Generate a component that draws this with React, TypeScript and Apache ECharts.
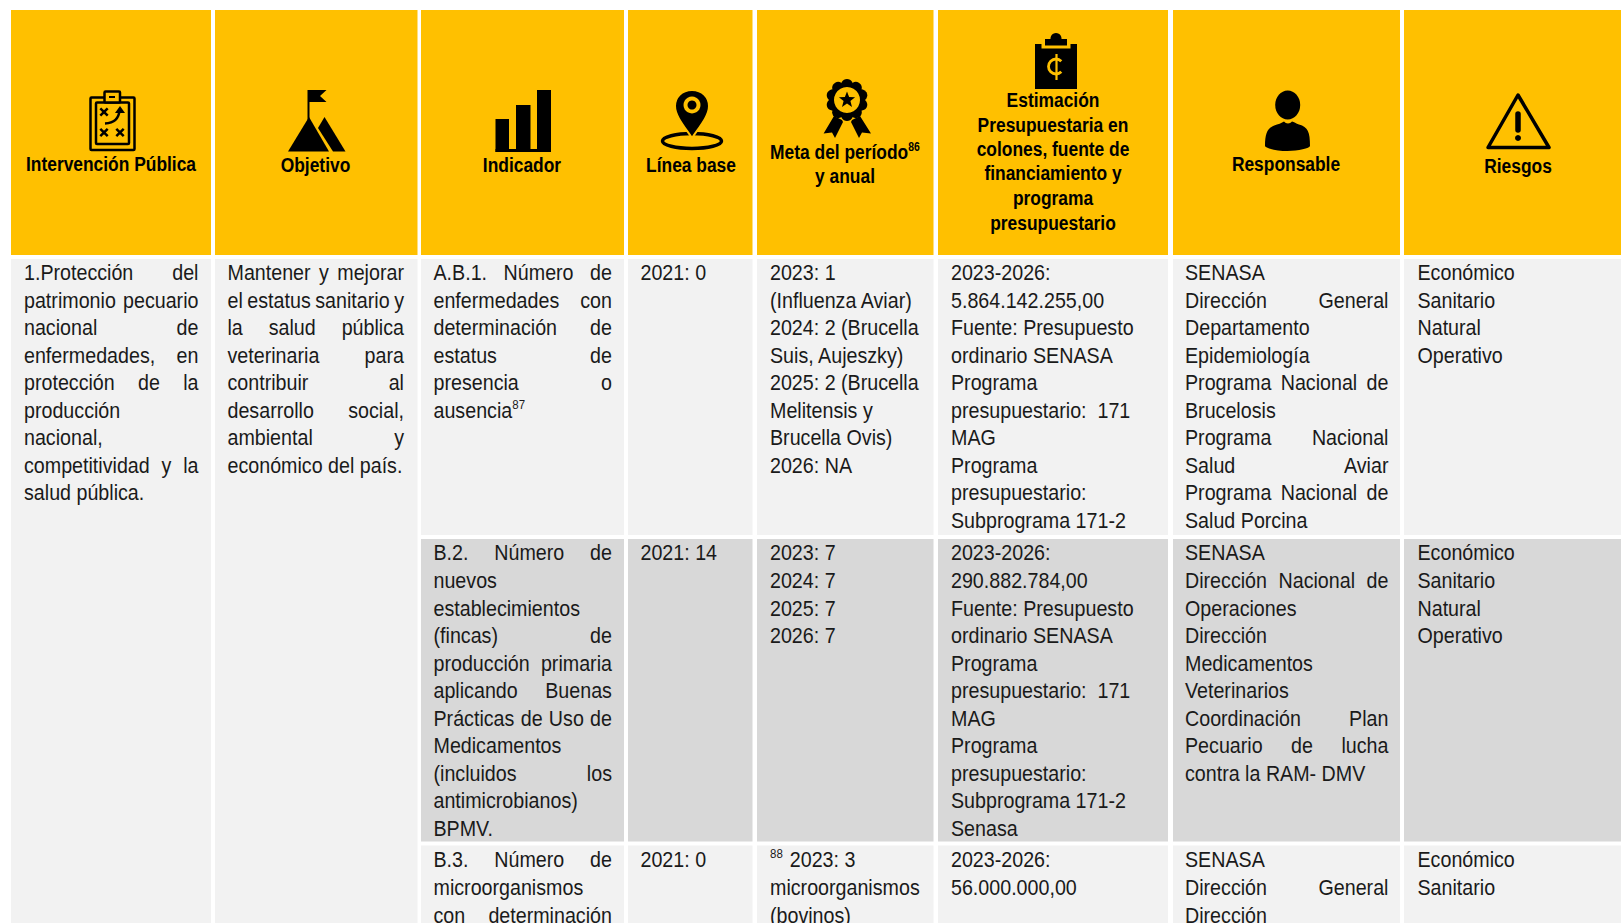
import React, { useEffect, useRef } from "react";
import * as echarts from "echarts";

const FONT_FAMILY = '"Liberation Sans", sans-serif';
const BODY_SIZE = 24;
const HEAD_SIZE = 20;
const BODY_SX = 0.82;
const BODY_SY = 0.95;
const HEAD_SX = 0.87;
const HEAD_SY = 1.0;

const columnEdges = [[11, 211], [215, 417.5], [421, 624], [628, 752.5], [757, 933.5], [938, 1168], [1173, 1400], [1404, 1621]];
const textEdges = [[24, 198.5], [227.5, 404], [433.5, 612], [640.5, 745], [770, 925], [951, 1160], [1185, 1388.5], [1417.5, 1610]];

const headerLines = [
  { x: 111, y: 164, text: "Intervención Pública" },
  { x: 315.5, y: 165, text: "Objetivo" },
  { x: 522, y: 165, text: "Indicador" },
  { x: 691, y: 165, text: "Línea base" },
  { x: 845, y: 152, text: "Meta del período^86" },
  { x: 845, y: 176, text: "y anual" },
  { x: 1053, y: 100, text: "Estimación" },
  { x: 1053, y: 125, text: "Presupuestaria en" },
  { x: 1053, y: 149, text: "colones, fuente de" },
  { x: 1053, y: 173.5, text: "financiamiento y" },
  { x: 1053, y: 198.5, text: "programa" },
  { x: 1053, y: 223, text: "presupuestario" },
  { x: 1286, y: 164, text: "Responsable" },
  { x: 1518, y: 166, text: "Riesgos" },
];

// "~" marks a justified line, "^" a superscript
const col1 = ["~1.Protección del", "~patrimonio pecuario", "~nacional de", "~enfermedades, en", "~protección de la", "producción", "nacional,", "~competitividad y la", "salud pública."];
const col2 = ["~Mantener y mejorar", "~el estatus sanitario y", "~la salud pública", "~veterinaria para", "~contribuir al", "~desarrollo social,", "~ambiental y", "económico del país."];
const indicadorA = ["~A.B.1. Número de", "~enfermedades con", "~determinación de", "~estatus de", "~presencia o", "ausencia^87"];
const indicadorB = ["~B.2. Número de", "nuevos", "establecimientos", "~(fincas) de", "~producción primaria", "~aplicando Buenas", "~Prácticas de Uso de", "Medicamentos", "~(incluidos los", "antimicrobianos)", "BPMV."];
const indicadorC = ["~B.3. Número de", "microorganismos", "~con determinación"];
const baseA = ["2021: 0"];
const baseB = ["2021: 14"];
const baseC = ["2021: 0"];
const metaA = ["2023: 1", "(Influenza Aviar)", "2024: 2 (Brucella", "Suis, Aujeszky)", "2025: 2 (Brucella", "Melitensis y", "Brucella Ovis)", "2026: NA"];
const metaB = ["2023: 7", "2024: 7", "2025: 7", "2026: 7"];
const metaC = ["^88 2023: 3", "microorganismos", "(bovinos)"];
const presA = ["2023-2026:", "5.864.142.255,00", "Fuente: Presupuesto", "ordinario SENASA", "Programa", "presupuestario:  171", "MAG", "Programa", "presupuestario:", "Subprograma 171-2"];
const presB = ["2023-2026:", "290.882.784,00", "Fuente: Presupuesto", "ordinario SENASA", "Programa", "presupuestario:  171", "MAG", "Programa", "presupuestario:", "Subprograma 171-2", "Senasa"];
const presC = ["2023-2026:", "56.000.000,00"];
const respA = ["SENASA", "~Dirección General", "Departamento", "Epidemiología", "~Programa Nacional de", "Brucelosis", "~Programa Nacional", "~Salud Aviar", "~Programa Nacional de", "Salud Porcina"];
const respB = ["SENASA", "~Dirección Nacional de", "Operaciones", "Dirección", "Medicamentos", "Veterinarios", "~Coordinación Plan", "~Pecuario de lucha", "contra la RAM- DMV"];
const respC = ["SENASA", "~Dirección General", "Dirección"];
const riskA = ["Económico", "Sanitario", "Natural", "Operativo"];
const riskB = ["Económico", "Sanitario", "Natural", "Operativo"];
const riskC = ["Económico", "Sanitario"];

const YELLOW = "#FFC000";
const LIGHT = "#F2F2F2";
const MID = "#D8D8D8";
const INK = "#1A1A1A";
const LINE_STEP = 27.55;
const ROW_TOPS = [272.5, 553, 860];

echarts.graphic.registerShape("personBody", echarts.graphic.extendPath(
  "M1265 146 C1265 132 1268 127 1277 124.5 C1281 123.5 1283 122 1284 121.5 C1286 124 1290 124 1292 121.5 C1294 122 1296 123.5 1299 124.5 C1308 127 1310 132 1310 146 C1310 148 1298 151 1287.5 151 C1277 151 1265 148 1265 146 Z", {}));
echarts.graphic.registerShape("pinBody", echarts.graphic.extendPath(
  "M692 90 C681.5 90 675 97.5 675 106 C675 116.5 685.5 128 692 138 C698.5 128 709 116.5 709 106 C709 97.5 702.5 90 692 90 Z", {}));

const measure = (() => {
  const ctx = document.createElement("canvas").getContext("2d")!;
  return (s: string, font: string) => { ctx.font = font; return ctx.measureText(s).width; };
})();

function txt(x: number, y: number, text: string, font: string, align: string, sx: number, sy: number, fill = INK) {
  return { type: "text", x, y, scaleX: sx, scaleY: sy, silent: true, style: { text, font, fill, align, verticalAlign: "middle", textAlign: align, textVerticalAlign: "middle" } };
}

function bodyLines(lines: string[], col: number, top: number) {
  const out: any[] = [];
  const font = `${BODY_SIZE}px ${FONT_FAMILY}`;
  const sup = `${Math.round(BODY_SIZE * 0.58)}px ${FONT_FAMILY}`;
  const [l, r] = textEdges[col];
  lines.forEach((raw, i) => {
    const y = top + i * LINE_STEP;
    const justified = raw.startsWith("~");
    const line = justified ? raw.slice(1) : raw;
    if (justified) {
      const words = line.split(" ");
      const widths = words.map((w) => measure(w, font) * BODY_SX);
      const gap = (r - l - widths.reduce((a, b) => a + b, 0)) / (words.length - 1);
      let x = l;
      words.forEach((w, k) => { out.push(txt(x, y, w, font, "left", BODY_SX, BODY_SY)); x += widths[k] + gap; });
    } else if (line.startsWith("^")) {
      const sp = line.indexOf(" ");
      const s = line.slice(1, sp);
      out.push(txt(l, y - 6, s, sup, "left", BODY_SX, BODY_SY));
      out.push(txt(l + measure(s, sup) * BODY_SX + 7, y, line.slice(sp + 1), font, "left", BODY_SX, BODY_SY));
    } else if (line.includes("^")) {
      const [a, s] = line.split("^");
      out.push(txt(l, y, a, font, "left", BODY_SX, BODY_SY));
      out.push(txt(l + measure(a, font) * BODY_SX, y - 6, s, sup, "left", BODY_SX, BODY_SY));
    } else {
      out.push(txt(l, y, line, font, "left", BODY_SX, BODY_SY));
    }
  });
  return out;
}

function headerText() {
  const out: any[] = [];
  const font = `bold ${HEAD_SIZE}px ${FONT_FAMILY}`;
  const sup = `bold ${Math.round(HEAD_SIZE * 0.6)}px ${FONT_FAMILY}`;
  headerLines.forEach(({ x, y, text }) => {
    if (text.includes("^")) {
      const [a, s] = text.split("^");
      const wa = measure(a, font) * HEAD_SX, ws = measure(s, sup) * HEAD_SX;
      const l = x - (wa + ws) / 2;
      out.push(txt(l, y, a, font, "left", HEAD_SX, HEAD_SY, "#000"));
      out.push(txt(l + wa, y - 5, s, sup, "left", HEAD_SX, HEAD_SY, "#000"));
    } else out.push(txt(x, y, text, font, "center", HEAD_SX, HEAD_SY, "#000"));
  });
  return out;
}

const black = { fill: "#000" };
const rect = (x: number, y: number, w: number, h: number, fill = "#000") => ({ type: "rect", shape: { x, y, width: w, height: h }, style: { fill } });
const poly = (points: number[][], fill = "#000") => ({ type: "polygon", shape: { points }, style: { fill } });
const circ = (cx: number, cy: number, r: number, fill = "#000") => ({ type: "circle", shape: { cx, cy, r }, style: { fill } });
const ln = (x1: number, y1: number, x2: number, y2: number, w = 2.5) => ({ type: "line", shape: { x1, y1, x2, y2 }, style: { stroke: "#000", lineWidth: w } });
const box = (x: number, y: number, w: number, h: number, lw: number, fill: string, r = 1) => ({ type: "rect", shape: { x, y, width: w, height: h, r }, style: { fill, stroke: "#000", lineWidth: lw } });
const cross = (cx: number, cy: number) => [ln(cx - 3.7, cy - 3.7, cx + 3.7, cy + 3.7), ln(cx - 3.7, cy + 3.7, cx + 3.7, cy - 3.7)];

function starPoints(cx: number, cy: number, R: number, r: number) {
  const p: number[][] = [];
  for (let i = 0; i < 10; i++) {
    const a = -Math.PI / 2 + (i * Math.PI) / 5;
    const q = i % 2 ? r : R;
    p.push([cx + q * Math.cos(a), cy + q * Math.sin(a)]);
  }
  return p;
}

function icons() {
  const scallops: any[] = [];
  for (let i = 0; i < 10; i++) {
    const a = (i * Math.PI) / 5 + Math.PI / 10;
    scallops.push(circ(847 + 15 * Math.cos(a), 100 + 15 * Math.sin(a), 6));
  }
  return [
    // plan clipboard
    box(90.5, 97.5, 44, 52.5, 2.5, "none"),
    box(96, 102.5, 33, 41.5, 2.5, "none"),
    box(104.5, 91.5, 15.5, 11, 2.5, YELLOW),
    ln(109, 97, 115, 97, 2),
    ...cross(104, 112),
    ...cross(104, 132.5),
    ...cross(120, 132.5),
    { type: "bezierCurve", shape: { x1: 105, y1: 123.5, x2: 119.5, y2: 110, cpx1: 115, cpy1: 123, cpx2: 119, cpy2: 118 }, style: { stroke: "#000", fill: "none", lineWidth: 2.5 } },
    poly([[120, 106], [125, 113], [115, 113]]),
    // mountain
    rect(307.5, 90, 2, 30),
    poly([[308, 90], [326.5, 90], [320, 96], [326.5, 102], [308, 102]]),
    poly([[309, 117], [329, 151.5], [288, 151.5]]),
    poly([[324.5, 117], [345.5, 151.5], [333, 151.5], [318, 128]]),
    // bars
    rect(495.5, 119, 13.5, 33),
    rect(516, 105, 14.5, 47),
    rect(537, 90, 14, 62),
    rect(495.5, 149, 55.5, 3),
    // pin
    { type: "ellipse", shape: { cx: 692, cy: 141, rx: 29.5, ry: 7.5 }, style: { fill: "none", stroke: "#000", lineWidth: 3.5 } },
    { type: "pinBody", style: { fill: "#000", stroke: YELLOW, lineWidth: 2 } },
    circ(692, 105, 8.5, YELLOW),
    circ(692, 105, 4.5),
    // badge
    poly([[842, 120], [834, 116], [823.6, 133.5], [832, 132.5], [835, 138], [843, 122]]),
    poly([[852, 120], [860, 116], [871, 133.5], [862, 132.5], [859, 138], [851, 122]]),
    circ(847, 100, 17),
    ...scallops,
    circ(847, 100, 13, YELLOW),
    poly(starPoints(847, 100, 8.5, 3.6)),
    // budget clipboard
    rect(1035, 44, 42, 45),
    rect(1041.5, 44, 29, 4.5, YELLOW),
    rect(1045, 39, 22, 6.5),
    circ(1056, 38.5, 5.5),
    { type: "arc", shape: { cx: 1056, cy: 66.5, r: 7.5, startAngle: Math.PI / 4, endAngle: (7 * Math.PI) / 4, clockwise: true }, style: { stroke: YELLOW, fill: "none", lineWidth: 2.8 } },
    { type: "line", shape: { x1: 1056.5, y1: 54, x2: 1056.5, y2: 80 }, style: { stroke: YELLOW, lineWidth: 2.2 } },
    // person
    { type: "ellipse", shape: { cx: 1287.7, cy: 105, rx: 12.5, ry: 14.5 }, style: black },
    { type: "personBody", style: black },
    // warning
    { type: "polygon", shape: { points: [[1518, 95], [1549, 147.5], [1488, 147.5]] }, style: { fill: "none", stroke: "#000", lineWidth: 3.5, lineJoin: "round" } },
    { type: "line", shape: { x1: 1518, y1: 114, x2: 1518, y2: 130 }, style: { stroke: "#000", lineWidth: 5.5, lineCap: "round" } },
    circ(1518, 138, 3),
  ];
}

function cells() {
  const out: any[] = [];
  columnEdges.forEach(([a, b]) => out.push(rect(a, 10, b - a, 245, YELLOW)));
  columnEdges.forEach(([a, b], i) => {
    if (i < 2) out.push(rect(a, 259, b - a, 664, LIGHT));
    else {
      out.push(rect(a, 259, b - a, 276, LIGHT));
      out.push(rect(a, 539, b - a, 302.5, MID));
      out.push(rect(a, 845.5, b - a, 78, LIGHT));
    }
  });
  return out;
}

const rowA = [indicadorA, baseA, metaA, presA, respA, riskA];
const rowB = [indicadorB, baseB, metaB, presB, respB, riskB];
const rowC = [indicadorC, baseC, metaC, presC, respC, riskC];

export default function App() {
  const ref = useRef<HTMLDivElement>(null);
  useEffect(() => {
    document.body.style.margin = "0";
    const chart = echarts.init(ref.current!, null, { renderer: "svg" });
    const elements = [
      ...cells(),
      ...icons(),
      ...headerText(),
      ...bodyLines(col1, 0, ROW_TOPS[0]),
      ...bodyLines(col2, 1, ROW_TOPS[0]),
    ];
    [rowA, rowB, rowC].forEach((row, r) => row.forEach((lines, c) => elements.push(...bodyLines(lines, c + 2, ROW_TOPS[r]))));
    chart.setOption({ animation: false, backgroundColor: "#fff", graphic: { elements } });
    return () => chart.dispose();
  }, []);
  return <div ref={ref} style={{ width: 1621, height: 923, overflow: "hidden" }} />;
}
